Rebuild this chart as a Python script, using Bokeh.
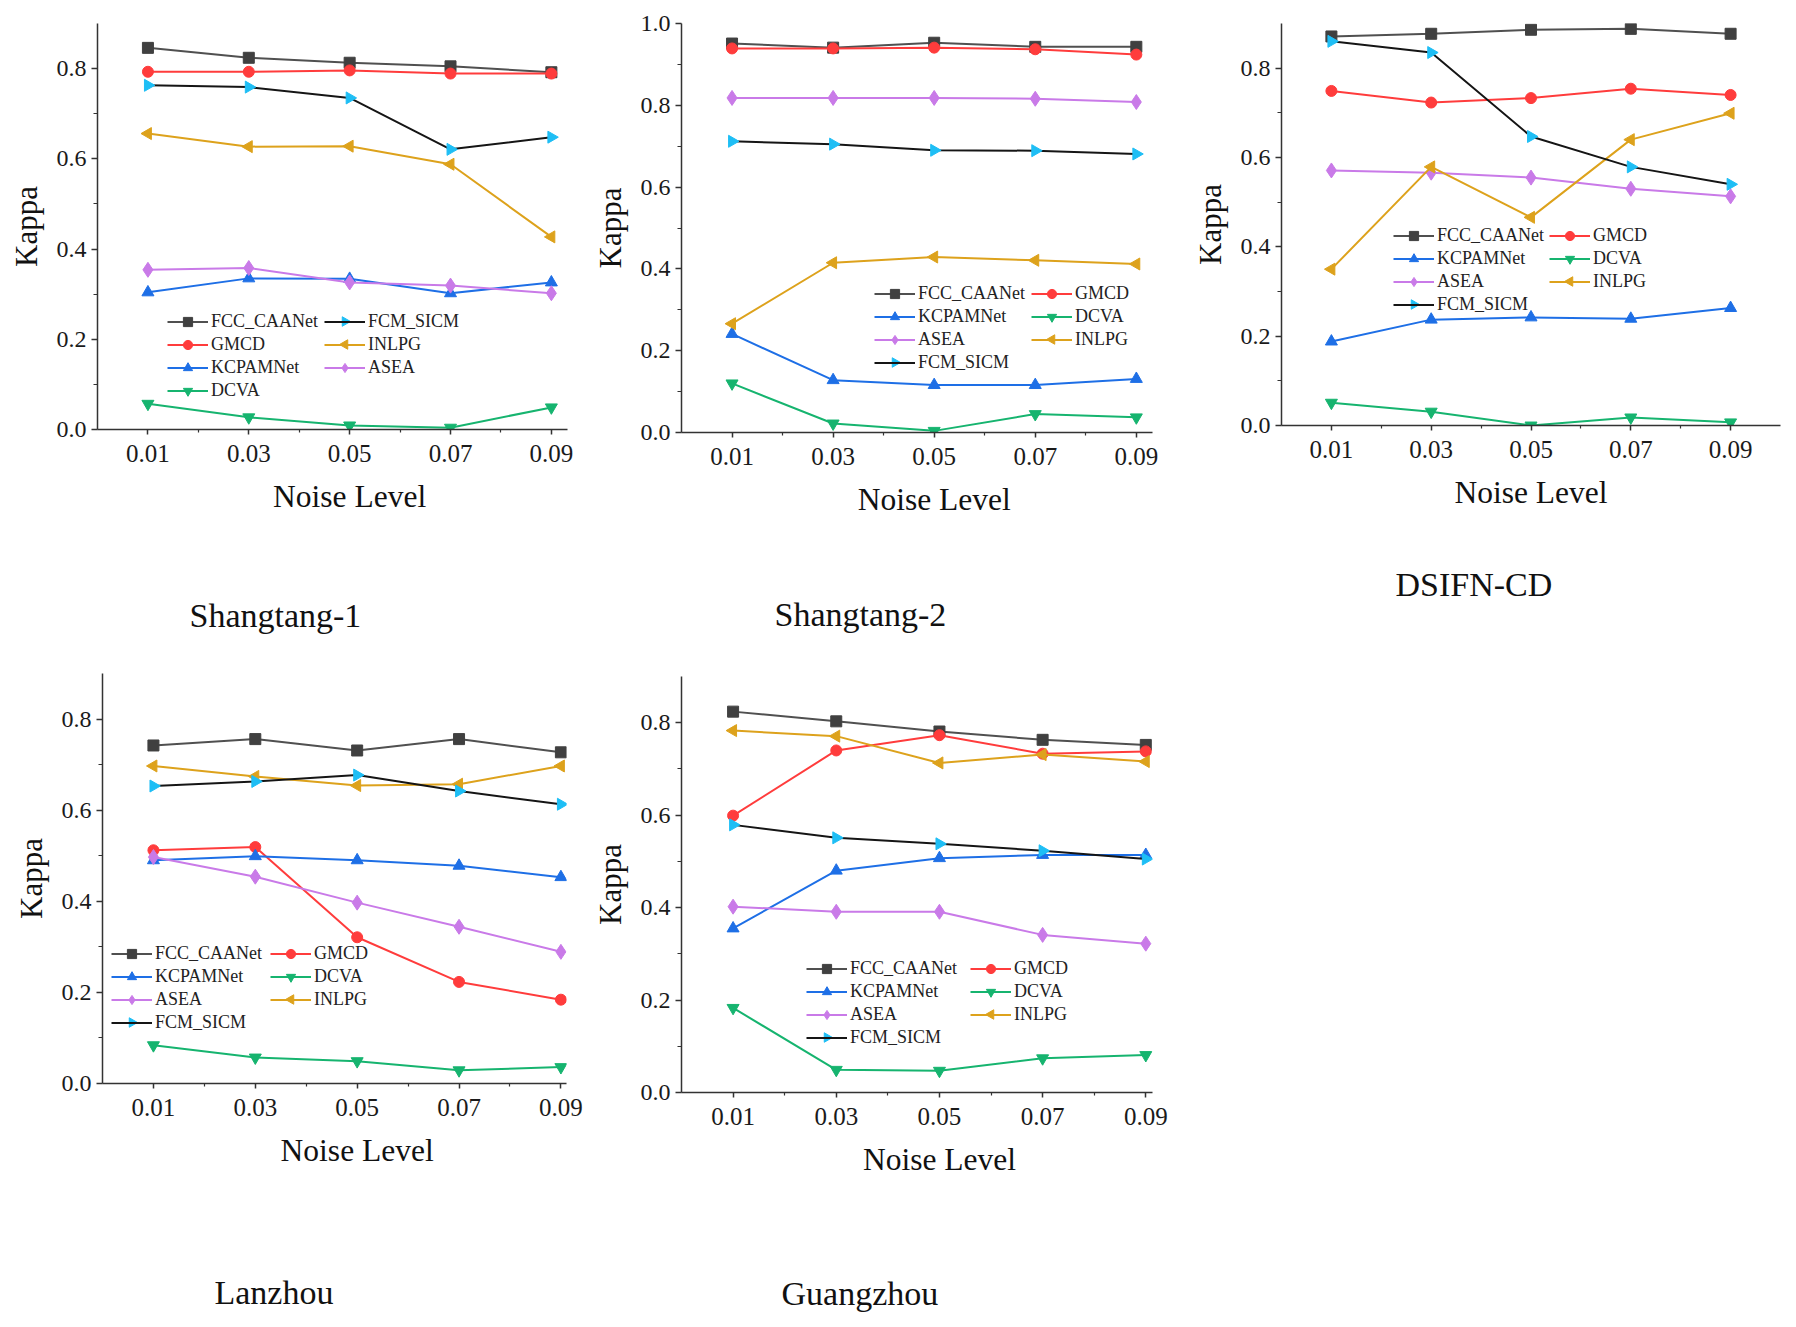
import math

from bokeh.embed import file_html
from bokeh.layouts import column, row
from bokeh.models import (CustomJSTickFormatter, FixedTicker, Legend, LegendItem,
                          LinearAxis, PrintfTickFormatter, Range1d, Title)
from bokeh.plotting import figure
from bokeh.resources import INLINE

# ---------------------------------------------------------------- data
noise_levels = [0.01, 0.03, 0.05, 0.07, 0.09]
noise_minor = [0.02, 0.04, 0.06, 0.08]

methods = ["FCC_CAANet", "GMCD", "KCPAMNet", "DCVA", "ASEA", "INLPG", "FCM_SICM"]

shangtang1 = {
    "FCC_CAANet": [0.846, 0.824, 0.813, 0.805, 0.792],
    "GMCD":       [0.793, 0.793, 0.796, 0.789, 0.789],
    "KCPAMNet":   [0.304, 0.335, 0.334, 0.302, 0.326],
    "DCVA":       [0.057, 0.027, 0.009, 0.004, 0.049],
    "ASEA":       [0.354, 0.358, 0.326, 0.319, 0.302],
    "INLPG":      [0.656, 0.627, 0.628, 0.588, 0.427],
    "FCM_SICM":   [0.763, 0.759, 0.735, 0.621, 0.648],
}
shangtang2 = {
    "FCC_CAANet": [0.951, 0.941, 0.953, 0.943, 0.943],
    "GMCD":       [0.939, 0.939, 0.941, 0.937, 0.924],
    "KCPAMNet":   [0.241, 0.128, 0.116, 0.116, 0.131],
    "DCVA":       [0.120, 0.022, 0.004, 0.045, 0.037],
    "ASEA":       [0.818, 0.818, 0.818, 0.816, 0.808],
    "INLPG":      [0.266, 0.415, 0.429, 0.421, 0.412],
    "FCM_SICM":   [0.712, 0.705, 0.690, 0.689, 0.681],
}
dsifn_cd = {
    "FCC_CAANet": [0.871, 0.877, 0.886, 0.888, 0.877],
    "GMCD":       [0.749, 0.723, 0.733, 0.754, 0.740],
    "KCPAMNet":   [0.188, 0.237, 0.242, 0.239, 0.263],
    "DCVA":       [0.051, 0.031, 0.000, 0.018, 0.007],
    "ASEA":       [0.571, 0.566, 0.555, 0.530, 0.513],
    "INLPG":      [0.350, 0.579, 0.466, 0.640, 0.699],
    "FCM_SICM":   [0.860, 0.835, 0.647, 0.579, 0.540],
}
lanzhou = {
    "FCC_CAANet": [0.742, 0.756, 0.731, 0.756, 0.727],
    "GMCD":       [0.512, 0.519, 0.321, 0.223, 0.184],
    "KCPAMNet":   [0.490, 0.499, 0.490, 0.478, 0.453],
    "DCVA":       [0.084, 0.057, 0.049, 0.029, 0.036],
    "ASEA":       [0.497, 0.454, 0.397, 0.344, 0.289],
    "INLPG":      [0.697, 0.674, 0.654, 0.657, 0.697],
    "FCM_SICM":   [0.653, 0.663, 0.677, 0.642, 0.613],
}
guangzhou = {
    "FCC_CAANet": [0.824, 0.803, 0.781, 0.763, 0.752],
    "GMCD":       [0.599, 0.740, 0.773, 0.733, 0.738],
    "KCPAMNet":   [0.355, 0.480, 0.507, 0.514, 0.514],
    "DCVA":       [0.183, 0.049, 0.047, 0.074, 0.081],
    "ASEA":       [0.402, 0.391, 0.391, 0.341, 0.322],
    "INLPG":      [0.783, 0.771, 0.713, 0.731, 0.716],
    "FCM_SICM":   [0.579, 0.551, 0.538, 0.523, 0.505],
}

# ---------------------------------------------------------------- styles
SERIF = "Liberation Serif"
style = {
    "FCC_CAANet": dict(line="#505050", fill="#404040", marker="square", angle=0.0, size=11),
    "GMCD":       dict(line="#FF3C3C", fill="#FF3C3C", marker="circle", angle=0.0, size=11),
    "KCPAMNet":   dict(line="#1E6FE6", fill="#1E6FE6", marker="triangle", angle=0.0, size=12),
    "DCVA":       dict(line="#16B46F", fill="#16B46F", marker="inverted_triangle", angle=0.0, size=12),
    "ASEA":       dict(line="#C97AE8", fill="#C97AE8", marker="diamond", angle=0.0, size=15),
    "INLPG":      dict(line="#DDA21C", fill="#DDA21C", marker="triangle", angle=math.pi / 2, size=12),
    "FCM_SICM":   dict(line="#151515", fill="#1EBEF5", marker="triangle", angle=-math.pi / 2, size=12),
}
# legend keys whose marker is rotated are drawn by hand on top of the legend
ROTATED = ("INLPG", "FCM_SICM")

ROW_H = 23        # legend row pitch
KEY_W = 41        # legend key width
NL_SIZE = 31.5    # "Noise Level" font size


def make_panel(data, name, xmax, ymax, width, height, left, right, top, bottom,
               leg_a, leg_b, col_a, col_b, gap, name_offset):
    p = figure(width=width, height=height,
               x_range=Range1d(0, xmax), y_range=Range1d(0, ymax),
               output_backend="svg", toolbar_location=None,
               min_border_left=left, min_border_right=right,
               min_border_top=top, min_border_bottom=bottom)
    p.grid.visible = False
    p.outline_line_color = None
    frame_w = width - left - right
    frame_h = height - top - bottom
    p.extra_x_ranges = {"px": Range1d(0, frame_w)}
    p.extra_y_ranges = {"px": Range1d(0, frame_h)}

    xa = p.xaxis[0]
    xa.ticker = FixedTicker(ticks=noise_levels, minor_ticks=noise_minor)
    xa.formatter = PrintfTickFormatter(format="%.2f")
    xa.major_tick_out, xa.major_tick_in = 5, 0
    xa.minor_tick_out, xa.minor_tick_in = 3, 0
    xa.major_label_standoff = 10
    xa.major_label_text_font_size = "25px"

    yt = [round(0.2 * i, 1) for i in range(int(round(ymax / 0.2)) + 1)]
    ym = [round(0.1 + 0.2 * i, 1) for i in range(int(round(ymax / 0.2)))]
    ya = p.yaxis[0]
    ya.ticker = FixedTicker(ticks=yt, minor_ticks=ym)
    ya.formatter = PrintfTickFormatter(format="%.1f")
    ya.major_tick_out, ya.major_tick_in = 6, 0
    ya.minor_tick_out, ya.minor_tick_in = 4, 0
    ya.major_label_standoff = 5
    ya.major_label_text_font_size = "24px"
    ya.axis_label = "Kappa"
    ya.axis_label_standoff = 10
    ya.axis_label_text_font = SERIF
    ya.axis_label_text_font_size = "31px"
    ya.axis_label_text_font_style = "normal"
    ya.axis_label_text_color = "#111111"

    for ax in (xa, ya):
        ax.axis_line_color = "#333333"
        ax.axis_line_width = 1.5
        ax.major_tick_line_color = "#333333"
        ax.major_tick_line_width = 1.5
        ax.minor_tick_line_color = "#333333"
        ax.minor_tick_line_width = 1.2
        ax.major_label_text_font = SERIF
        ax.major_label_text_color = "#1a1a1a"

    items = {}
    for m in methods:
        s = style[m]
        ln = p.line(noise_levels, data[m], line_color=s["line"], line_width=2)
        mk = p.scatter(noise_levels, data[m], marker=s["marker"], angle=s["angle"],
                       size=s["size"], fill_color=s["fill"], line_color=s["fill"])
        rends = [ln] if m in ROTATED else [ln, mk]
        items[m] = LegendItem(label=m, renderers=rends)

    for (vx, vy), names in ((leg_a, col_a), (leg_b, col_b)):
        lg = Legend(items=[items[n] for n in names], location=(vx, vy),
                    orientation="vertical", padding=0, margin=0, spacing=0,
                    glyph_width=KEY_W, glyph_height=ROW_H, label_height=ROW_H,
                    label_standoff=3, border_line_alpha=0,
                    background_fill_alpha=0,
                    label_text_font=SERIF, label_text_font_size="18px",
                    label_text_color="#222222")
        p.add_layout(lg)
        # rotated legend keys, placed at the centre of their legend rows
        n = len(names)
        for i, nm in enumerate(names):
            if nm in ROTATED:
                s = style[nm]
                p.scatter([vx + KEY_W / 2], [vy + n * ROW_H - ROW_H / 2 - ROW_H * i],
                          x_range_name="px", y_range_name="px", level="overlay",
                          marker=s["marker"], angle=s["angle"], size=9.5,
                          fill_color=s["fill"], line_color=s["fill"])

    # "Noise Level" centred under the 0.05 tick
    text_w = 4.86 * NL_SIZE
    nl_offset = 0.05 / xmax * frame_w - text_w / 2
    p.add_layout(Title(text="Noise Level", align="left", offset=nl_offset,
                       standoff=25, text_font=SERIF,
                       text_font_size=f"{NL_SIZE}px", text_font_style="normal",
                       text_color="#111111"), "below")
    # blank band between the axis title and the dataset name
    spacer = LinearAxis(ticker=FixedTicker(ticks=[0.05]),
                        formatter=CustomJSTickFormatter(code="return ''"),
                        axis_line_color=None, minor_tick_line_color=None,
                        major_tick_line_color="white",
                        major_tick_out=int(round(gap)), major_tick_in=0,
                        minor_tick_out=0, minor_tick_in=0,
                        major_label_standoff=0,
                        major_label_text_font_size="1px")
    p.add_layout(spacer, "below")
    p.add_layout(Title(text=name, align="left", offset=name_offset,
                       standoff=0, text_font=SERIF,
                       text_font_size="34px", text_font_style="normal",
                       text_color="#111111"), "below")
    return p


cols_first = (["FCC_CAANet", "GMCD", "KCPAMNet", "DCVA"],
              ["FCM_SICM", "INLPG", "ASEA"])
cols_other = (["FCC_CAANet", "KCPAMNet", "ASEA", "FCM_SICM"],
              ["GMCD", "DCVA", "INLPG"])

# width = left border + frame + right border (room for the last tick label)
p1 = make_panel(shangtang1, "Shangtang-1", 0.0932, 0.9, 97 + 470 + 9, 650, 97, 9, 23, 221,
                (70, 27.5), (227, 50.5), *cols_first, 68, 92)
p2 = make_panel(shangtang2, "Shangtang-2", 0.0932, 1.0, 105 + 471 + 8, 650, 105, 8, 23, 218,
                (193, 58.5), (350, 81.5), *cols_other, 64, 93)
p3 = make_panel(dsifn_cd, "DSIFN-CD", 0.1, 0.9, 121 + 499 + 16, 650, 121, 16, 23, 225,
                (112, 109.5), (268, 132.5), *cols_other, 41, 114)
p4 = make_panel(lanzhou, "Lanzhou", 0.0911, 0.9, 102 + 464 + 19, 677, 102, 19, 23, 244,
                (9, 49.5), (168, 72.5), *cols_other, 91, 112)
p5 = make_panel(guangzhou, "Guangzhou", 0.0913, 0.9, 96 + 471 + 18, 677, 96, 18, 26, 235,
                (125, 43.5), (289, 66.5), *cols_other, 83, 100)

layout = column(row(column(p1), column(p2), column(p3)),
                row(column(p4), column(p5)))

with open("out.html", "w") as f:
    f.write(file_html(layout, INLINE))
